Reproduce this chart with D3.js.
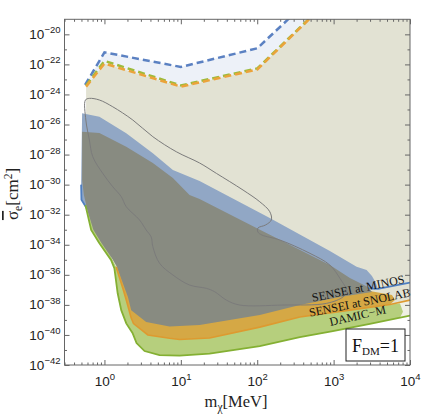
<!DOCTYPE html>
<html>
<head>
<meta charset="utf-8">
<script src="https://cdn.jsdelivr.net/npm/d3@7"></script>
<style>
  body { margin: 0; background: #fff; }
  svg { display: block; }
</style>
</head>
<body>
<div id="chart"></div>
<script>
// all curves are [mass in MeV, log10 of sigma_e in cm^2]

// dashed upper boundaries
const dashBlue = [[0.558, -23.37], [1, -21.20], [10, -22.17], [100, -20.93], [316, -18.55]];
const dashOrange = [[0.575, -23.48], [1, -21.94], [10, -23.48], [100, -22.34], [562, -18.65]];
const dashGreen = [[0.575, -23.40], [1, -21.77], [10, -23.40], [100, -22.27], [562, -18.62]];

// SENSEI at MINOS: upper edge of band and projected limit
const minosTop = [[0.51, -25.25], [0.859, -25.48], [1.93, -26.58], [4.30, -27.92], [7.87, -29.03],
  [17.6, -29.76], [146, -32.22], [893, -34.42], [2000, -35.46], [2704, -35.68], [3177, -36.08],
  [3583, -36.55], [3802, -36.94]];
const minosLimit = [[0.495, -30.0], [0.5, -31.0], [1, -33.5], [10, -35.5], [100, -36.3],
  [1000, -36.8], [3802, -36.94], [10000, -36.52]];

// SENSEI at SNOLAB
const snolabLimit = [[1.42, -35.46], [1.74, -36.90], [1.93, -37.68], [2.24, -38.88], [2.40, -39.24],
  [3.70, -40.00], [7.11, -40.22], [9.64, -40.30], [23.8, -40.20], [108, -39.48], [361, -38.81],
  [1633, -38.35], [5470, -37.98], [10000, -37.68]];
const snolabCeil = [[6353, -37.68], [5808, -37.35], [2985, -37.08], [361, -37.55], [17.6, -37.68]];

// DAMIC-M
const damicLimit = [[0.564, -31.36], [0.67, -33.02], [0.859, -33.90], [1.22, -35.01], [1.35, -35.57],
  [1.49, -37.23], [1.66, -38.35], [1.93, -39.23], [2.33, -39.87], [2.63, -40.54], [3.35, -41.07],
  [5.26, -41.34], [9.64, -41.37], [23.8, -41.24], [108, -40.74], [361, -40.14], [977, -39.74],
  [2985, -39.27], [10000, -38.71]];
const damicCap = [[7396, -38.84], [8095, -38.45], [7396, -37.90]];

// region covered by all three projections
const overlapRegion = [[0.51, -26.48], [0.859, -26.56], [1.93, -27.48], [4.30, -28.56], [7.87, -29.56],
  [13.0, -30.69], [17.6, -30.96], [97.7, -32.89], [893, -35.35], [1633, -36.21], [2812, -36.81],
  [3177, -37.14], [1208, -37.48], [361, -38.01], [108, -38.68], [17.6, -39.34], [7.11, -39.44],
  [3.52, -39.14], [2.24, -38.35], [2.03, -37.48], [1.70, -36.41], [1.46, -35.48], [1.27, -34.95],
  [0.914, -33.88], [0.718, -33.02], [0.607, -31.82], [0.538, -30.69], [0.51, -29.69]];

// thin grey closed contour
const contour = [[0.564, -24.37], [0.635, -24.26], [0.859, -24.37], [1.285, -24.82], [2.35, -25.70],
  [4.30, -26.81], [8.71, -27.81], [17.6, -28.56], [29.2, -29.25], [65.2, -30.36], [108, -31.14],
  [146, -31.80], [153, -32.35], [129, -32.68], [102, -32.89], [102, -33.15], [115, -33.35],
  [197, -33.68], [489, -34.57], [893, -35.35], [1208, -36.23], [1479, -37.08], [1334, -37.46],
  [807, -37.90], [218, -38.01], [58.9, -38.01], [39.4, -37.68], [27.7, -37.12], [21.6, -36.90],
  [13.0, -36.68], [7.87, -36.01], [5.26, -35.23], [4.30, -34.13], [4.09, -33.48], [3.52, -33.02],
  [2.88, -32.35], [1.93, -31.47], [1.66, -30.80], [1.285, -30.14], [0.95, -29.25], [0.703, -28.14],
  [0.635, -27.03], [0.571, -25.70]];

const bandLabels = ["SENSEI at MINOS", "SENSEI at SNOLAB", "DAMIC\u2212M"];
const xTickMasses = [1, 10, 100, 1000, 10000];
const yTickExps = [-42, -40, -38, -36, -34, -32, -30, -28, -26, -24, -22, -20];

const W = 421, H = 417;
const x = d3.scaleLog().domain([0.3, 1e4]).range([64.5, 410]);
const y = d3.scaleLog().domain([1e-42, 1e-19]).range([365, 19.3]);
const X0 = x.range()[0], X1 = x.range()[1], Y0 = y.range()[0], Y1 = y.range()[1];

const px = d => x(d[0]);
const py = d => y(Math.pow(10, d[1]));
const line = d3.line().x(px).y(py);
const poly = pts => line(pts) + "Z";

const svg = d3.select("#chart").append("svg").attr("width", W).attr("height", H);
svg.append("defs").append("clipPath").attr("id", "plotclip").append("rect")
  .attr("x", X0).attr("y", Y1).attr("width", X1 - X0).attr("height", Y0 - Y1);
const plot = svg.append("g").attr("clip-path", "url(#plotclip)");

const topY = Math.log10(y.domain()[1]) + 0.4;
const lastSnolab = snolabLimit[snolabLimit.length - 1];

// light blue strip between the two dashed bounds
plot.append("path").attr("d", poly(dashBlue.concat(dashOrange.slice().reverse())))
  .attr("fill", "#edf1f8");

// beige excluded region
const beige = dashOrange.concat([[1e4, topY], [1e4, lastSnolab[1]]],
  snolabLimit.slice().reverse(), [[0.575, -31.0]]);
plot.append("path").attr("d", poly(beige)).attr("fill", "#e2e2d3");

// pale strip between SNOLAB and DAMIC limits at high mass
const pale = snolabLimit.filter(d => d[0] >= 1000)
  .concat(damicLimit.filter(d => d[0] >= 977).reverse());
plot.append("path").attr("d", poly(pale)).attr("fill", "#eff0e4");

// MINOS band
const minosEnd = minosTop[minosTop.length - 1][0];
plot.append("path")
  .attr("d", poly(minosTop.concat(minosLimit.filter(d => d[0] < minosEnd).reverse())))
  .attr("fill", "#91a7c5");
plot.append("path").attr("d", line(minosLimit))
  .attr("fill", "none").attr("stroke", "#4f7fc1").attr("stroke-width", 1.8);

// DAMIC-M band
const snolabBand = snolabLimit.filter(d => d[0] <= 5470);
plot.append("path")
  .attr("d", poly(damicLimit.filter(d => d[0] < 7396).concat(damicCap, snolabBand.slice().reverse())))
  .attr("fill", "#b6cf7d");

// SNOLAB band
plot.append("path").attr("d", poly(snolabBand.concat(snolabCeil)))
  .attr("fill", "#d5a845");

// overlap
plot.append("path").attr("d", poly(overlapRegion)).attr("fill", "#888b81");

// limit lines
plot.append("path").attr("d", line(damicLimit))
  .attr("fill", "none").attr("stroke", "#84b033").attr("stroke-width", 1.8);
plot.append("path").attr("d", line(snolabLimit))
  .attr("fill", "none").attr("stroke", "#dd9a30").attr("stroke-width", 1.6);

// contour
plot.append("path").attr("d", d3.line().x(px).y(py).curve(d3.curveCatmullRomClosed.alpha(0.5))(contour))
  .attr("fill", "none").attr("stroke", "#7b7b7b").attr("stroke-width", 1);

// dashed curves
[[dashBlue, "#5b81c2"], [dashGreen, "#9dbb3c"], [dashOrange, "#eba33a"]].forEach(([pts, c]) => {
  plot.append("path").attr("d", line(pts))
    .attr("fill", "none").attr("stroke", c).attr("stroke-width", 2.5)
    .attr("stroke-dasharray", "7,4");
});

// band labels
const labelPos = [[535, -37.79, -11.5], [489, -38.79, -11.5], [912, -39.41, -13]];
bandLabels.forEach((t, i) => {
  const p = labelPos[i];
  svg.append("text")
    .attr("transform", `translate(${x(p[0])},${y(Math.pow(10, p[1]))}) rotate(${p[2]})`)
    .attr("font-family", "'Liberation Serif', 'Times New Roman', serif")
    .attr("font-size", "12px").attr("fill", "#111")
    .text(t);
});

// axes, ticks inward on all four sides
const tickFont = "'Liberation Sans', Arial, sans-serif";
const minorMult = [2, 3, 4, 5, 6, 7, 8, 9];
const xMinor = [0.3, 0.4, 0.5, 0.6, 0.7, 0.8, 0.9];
[1, 10, 100, 1000].forEach(b => minorMult.forEach(k => xMinor.push(b * k)));
const yMajor = yTickExps.map(e => Math.pow(10, e));
const yMinor = yTickExps.map(e => Math.pow(10, e + 1)).filter(v => v < 1e-19 * 0.99);

function styleAxis(g) {
  g.select(".domain").remove();
  g.selectAll("line").attr("stroke", "#666");
}

function addPow(textSel) {
  textSel.text(null).each(function (d) {
    const e = Math.round(Math.log10(d));
    const t = d3.select(this);
    t.append("tspan").text("10");
    t.append("tspan").attr("dy", -5.5).attr("font-size", "9.5px")
      .text((e < 0 ? "\u2212" : "") + Math.abs(e));
  });
}

const gx = svg.append("g").attr("transform", `translate(0,${Y0})`)
  .call(d3.axisBottom(x).tickValues(xTickMasses).tickSizeInner(-5).tickSizeOuter(0).tickFormat(""));
styleAxis(gx);
gx.selectAll(".tick text").attr("y", 20.5).attr("dy", 0)
  .attr("font-size", "13.5px").attr("font-family", tickFont).attr("fill", "#222")
  .call(addPow);
svg.append("g").attr("transform", `translate(0,${Y0})`)
  .call(d3.axisBottom(x).tickValues(xMinor).tickSizeInner(-2.5).tickSizeOuter(0).tickFormat(""))
  .call(styleAxis);
svg.append("g").attr("transform", `translate(0,${Y1})`)
  .call(d3.axisTop(x).tickValues(xTickMasses).tickSizeInner(-5).tickSizeOuter(0).tickFormat(""))
  .call(styleAxis);
svg.append("g").attr("transform", `translate(0,${Y1})`)
  .call(d3.axisTop(x).tickValues(xMinor).tickSizeInner(-2.5).tickSizeOuter(0).tickFormat(""))
  .call(styleAxis);

const gy = svg.append("g").attr("transform", `translate(${X0},0)`)
  .call(d3.axisLeft(y).tickValues(yMajor).tickSizeInner(-5).tickSizeOuter(0).tickPadding(4).tickFormat(""));
styleAxis(gy);
gy.selectAll(".tick text").attr("dy", "0.3em")
  .attr("font-size", "13.5px").attr("font-family", tickFont).attr("fill", "#222")
  .call(addPow);
svg.append("g").attr("transform", `translate(${X0},0)`)
  .call(d3.axisLeft(y).tickValues(yMinor).tickSizeInner(-2.5).tickSizeOuter(0).tickFormat(""))
  .call(styleAxis);
svg.append("g").attr("transform", `translate(${X1},0)`)
  .call(d3.axisRight(y).tickValues(yMajor).tickSizeInner(-5).tickSizeOuter(0).tickFormat(""))
  .call(styleAxis);
svg.append("g").attr("transform", `translate(${X1},0)`)
  .call(d3.axisRight(y).tickValues(yMinor).tickSizeInner(-2.5).tickSizeOuter(0).tickFormat(""))
  .call(styleAxis);

svg.append("rect").attr("x", X0).attr("y", Y1).attr("width", X1 - X0).attr("height", Y0 - Y1)
  .attr("fill", "none").attr("stroke", "#666").attr("stroke-width", 1);

// axis titles
const serif = "'Liberation Serif', 'Times New Roman', serif";
const xt = svg.append("text").attr("x", 236).attr("y", 407).attr("text-anchor", "middle")
  .attr("font-family", serif).attr("font-size", "16.5px").attr("fill", "#222");
xt.append("tspan").text("m");
xt.append("tspan").attr("dy", 4).attr("font-size", "11.5px").text("\u03c7");
xt.append("tspan").attr("dy", -4).text("[MeV]");

const yt = svg.append("text").attr("transform", "translate(18,194) rotate(-90)")
  .attr("text-anchor", "middle").attr("font-family", serif).attr("font-size", "17px").attr("fill", "#222");
yt.append("tspan").style("text-decoration", "overline").text("\u03c3");
yt.append("tspan").attr("dy", 4).attr("font-size", "11.5px").text("e");
yt.append("tspan").attr("dy", -4).text("[cm");
yt.append("tspan").attr("dy", -6).attr("font-size", "11.5px").text("2");
yt.append("tspan").attr("dy", 6).text("]");

// F_DM = 1 box
svg.append("rect").attr("x", 346).attr("y", 329).attr("width", 59).attr("height", 32)
  .attr("fill", "#fff").attr("stroke", "#222").attr("stroke-width", 1);
const ft = svg.append("text").attr("x", 375.5).attr("y", 352).attr("text-anchor", "middle")
  .attr("font-family", serif).attr("font-size", "18px").attr("fill", "#111");
ft.append("tspan").text("F");
ft.append("tspan").attr("dy", 3).attr("font-size", "11px").text("DM");
ft.append("tspan").attr("dy", -3).text("=1");
</script>
</body>
</html>
